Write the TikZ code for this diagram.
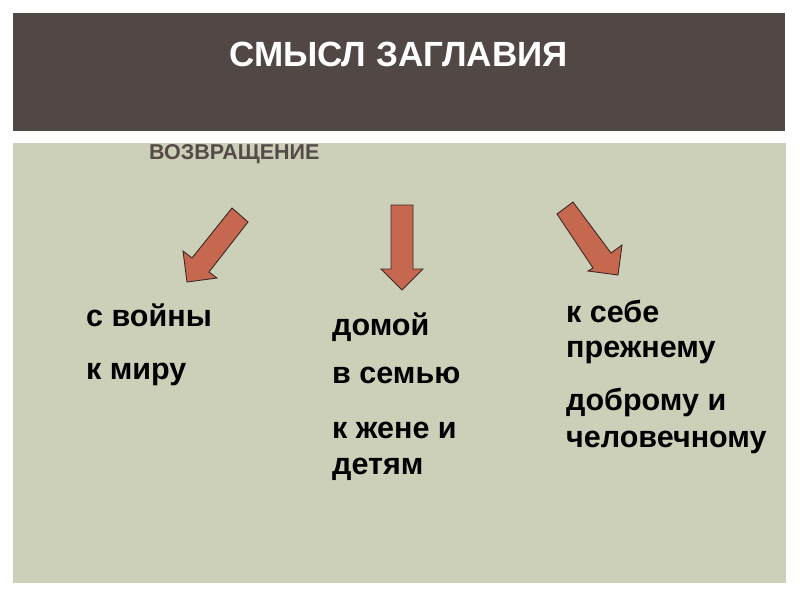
\documentclass[tikz,border=0pt]{standalone}
\usepackage{fontspec}
\setmainfont{Liberation Sans}
\definecolor{bandc}{HTML}{514846}
\definecolor{panelc}{HTML}{CCD0B8}
\definecolor{arrowc}{HTML}{C6684F}
\definecolor{arrowd}{HTML}{3A2A25}
\definecolor{subc}{HTML}{554B48}
\tikzset{
  blockarrow/.style={fill=arrowc, draw=arrowd, line width=0.9pt, line join=miter},
  bodytext/.style={anchor=base west, inner sep=0pt, font=\fontsize{30.5}{34}\selectfont\bfseries, text=black},
}
\begin{document}
\begin{tikzpicture}[x=1pt,y=-1pt]
\useasboundingbox (0,0) rectangle (800,600);
\fill[white] (0,0) rectangle (800,600);
\fill[bandc] (13,13) rectangle (785,131);
\fill[panelc] (13,143) rectangle (786,583);
\node[anchor=base west, inner sep=0pt, text=white, font=\fontsize{35}{40}\selectfont\bfseries] (title) at (229,66) {СМЫСЛ ЗАГЛАВИЯ};
\node[anchor=base west, inner sep=0pt, text=subc, font=\fontsize{21.5}{24}\selectfont\bfseries] (sub) at (149,159) {ВОЗВРАЩЕНИЕ};
% arrows
\draw[blockarrow] (232,208) -- (248,222) -- (209,272) -- (217,278) -- (187,282) -- (183,251) -- (192,258) -- cycle;
\draw[blockarrow] (391,205) -- (413,205) -- (413,269) -- (423,269) -- (402,290) -- (381,269) -- (391,269) -- cycle;
\draw[blockarrow] (557,214) -- (573,202) -- (611,253) -- (622,245) -- (618,275) -- (588,271) -- (593,268) -- cycle;
% texts
\node[bodytext] (l1) at (86,326) {с войны};
\node[bodytext] (l2) at (86,379) {к миру};
\node[bodytext] (m1) at (332,335) {домой};
\node[bodytext] (m2) at (332,383) {в семью};
\node[bodytext] (m3) at (332,438) {к жене и};
\node[bodytext] (m4) at (332,474) {детям};
\node[bodytext] (r1) at (566,322) {к себе};
\node[bodytext] (r2) at (566,357) {прежнему};
\node[bodytext] (r3) at (566,410) {доброму и};
\node[bodytext] (r4) at (566,447) {человечному};
\end{tikzpicture}
\end{document}
